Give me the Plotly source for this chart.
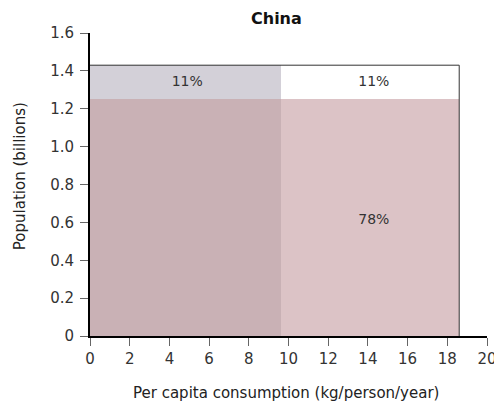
import plotly.graph_objects as go

# Data
x_edges = [0, 9.6, 18.6]          # consumption group boundaries (kg/person/year)
pop_lower = [1.25, 1.25]          # population of lower block (billions)
pop_total = [1.43, 1.43]          # total population (billions)
lower_colors = ["#c9b1b5", "#dcc3c6"]
upper_colors = ["#d3d0d8", "#ffffff"]
labels_upper = ["11%", "11%"]
label_lower_right = "78%"
y_ticks = [0, 0.2, 0.4, 0.6, 0.8, 1.0, 1.2, 1.4, 1.6]
y_ticktext = ["0", "0.2", "0.4", "0.6", "0.8", "1.0", "1.2", "1.4", "1.6"]
x_ticks = list(range(0, 21, 2))

fig = go.Figure()
centers = [(x_edges[i] + x_edges[i + 1]) / 2 for i in range(2)]
widths = [x_edges[i + 1] - x_edges[i] for i in range(2)]

fig.add_trace(go.Bar(x=centers, y=pop_lower, width=widths, base=[0, 0],
                     marker=dict(color=lower_colors, line=dict(width=0)),
                     hoverinfo="skip", showlegend=False))
fig.add_trace(go.Bar(x=centers, y=[t - l for t, l in zip(pop_total, pop_lower)],
                     width=widths, base=pop_lower,
                     marker=dict(color=upper_colors, line=dict(width=0)),
                     hoverinfo="skip", showlegend=False))
# outline top and right edges
fig.add_trace(go.Scatter(x=[x_edges[0], x_edges[-1], x_edges[-1]],
                         y=[pop_total[0], pop_total[-1], 0],
                         mode="lines", line=dict(color="#333333", width=1),
                         hoverinfo="skip", showlegend=False))
# labels
fig.add_trace(go.Scatter(x=[centers[0] + 0.1, centers[1] + 0.2, centers[1] + 0.2],
                         y=[(pop_lower[0] + pop_total[0]) / 2,
                            (pop_lower[1] + pop_total[1]) / 2, 0.61],
                         mode="text", text=labels_upper + [label_lower_right],
                         textfont=dict(size=14, color="#333333"),
                         hoverinfo="skip", showlegend=False))

font_family = "DejaVu Sans, Open Sans, sans-serif"
fig.update_layout(
    width=494, height=397,
    margin=dict(l=82, r=15, t=25, b=69),
    paper_bgcolor="white", plot_bgcolor="white",
    barmode="overlay", bargap=0,
    font=dict(family=font_family, size=15, color="#333333"),
    xaxis=dict(range=[0, 20], tickvals=x_ticks, showline=True, linecolor="black",
               linewidth=2, ticks="outside", ticklen=8, tickcolor="#666666", tickwidth=1,
               showgrid=False, zeroline=False, automargin=False,
               tickfont=dict(size=15, color="#333333")),
    yaxis=dict(range=[0, 1.6], tickvals=y_ticks, ticktext=y_ticktext, showline=True,
               linecolor="black", linewidth=2, ticks="outside", ticklen=8,
               tickcolor="#666666", tickwidth=1, showgrid=False, zeroline=False,
               automargin=False, ticklabelstandoff=3,
               tickfont=dict(size=15, color="#333333")),
    annotations=[
        dict(text="<b>China</b>", x=0.471, y=1.0495, xref="paper", yref="paper",
             xanchor="center", yanchor="middle", showarrow=False,
             font=dict(size=16, color="#111111")),
        dict(text="Per capita consumption (kg/person/year)", x=0.494, y=-0.188,
             xref="paper", yref="paper", xanchor="center", yanchor="middle",
             showarrow=False, font=dict(size=15, color="#222222")),
        dict(text="Population (billions)", x=-0.176, y=0.528, xref="paper", yref="paper",
             xanchor="center", yanchor="middle", textangle=-90, showarrow=False,
             font=dict(size=15, color="#222222")),
    ],
)

fig.write_html("out.html")
